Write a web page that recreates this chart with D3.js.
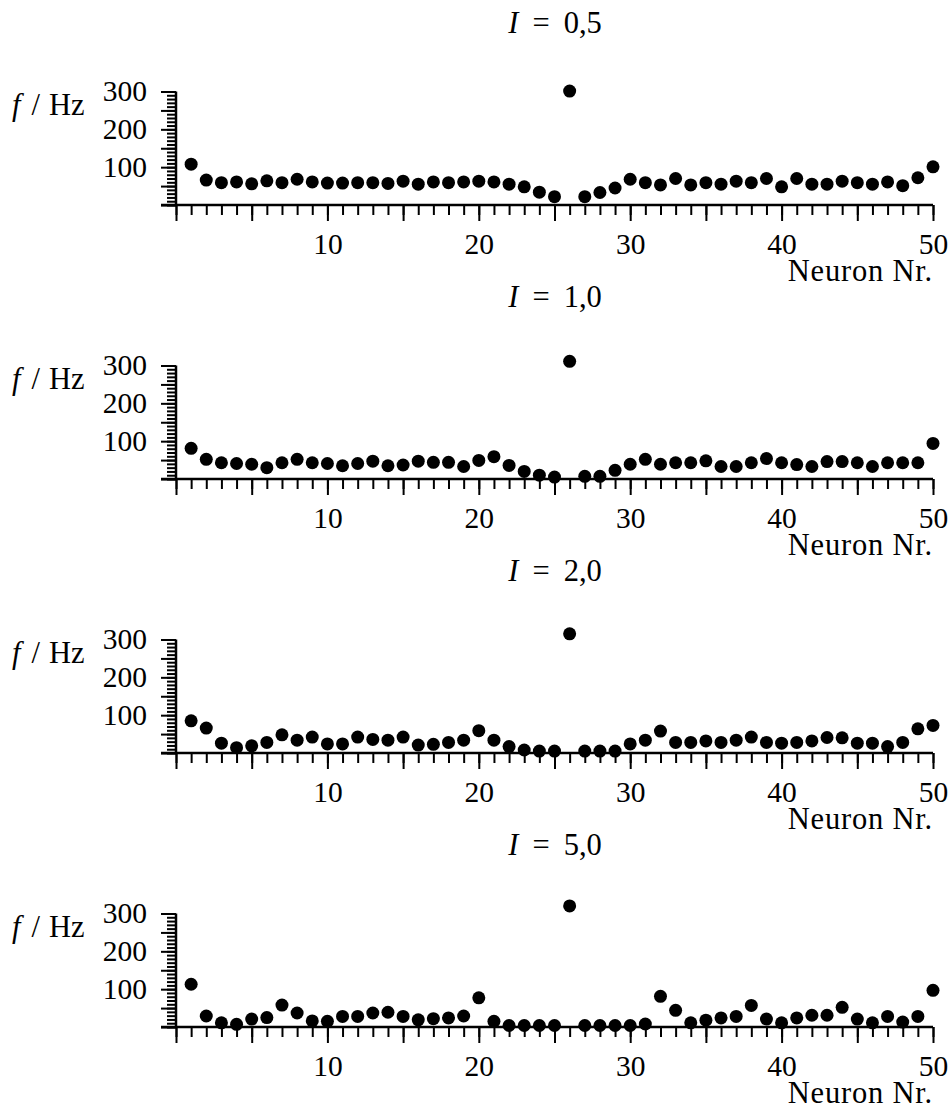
<!DOCTYPE html>
<html>
<head>
<meta charset="utf-8">
<script src="https://cdn.jsdelivr.net/npm/d3@7"></script>
<style>
  body { margin: 0; background: #fff; }
  svg text { font-family: "Liberation Serif", "DejaVu Serif", serif; fill: #000; }
</style>
</head>
<body>
<div id="chart"></div>
<script>
// input currents, one panel each
const currents = ['0,5', '1,0', '2,0', '5,0'];
const neurons = d3.range(1, 51);

// firing rate f / Hz per neuron
const rateI05 = [108, 66, 59, 61, 56, 64, 59, 68, 61, 58, 58, 59, 59, 57, 63, 55, 61, 59, 61, 63,
  61, 55, 48, 34, 22, 301, 22, 33, 45, 68, 59, 53, 70, 53, 59, 55, 63, 59, 70, 48,
  70, 55, 55, 63, 59, 55, 61, 51, 72, 101];
const rateI10 = [81, 52, 43, 41, 39, 30, 43, 52, 43, 41, 35, 41, 47, 35, 37, 47, 44, 44, 33, 49,
  59, 36, 20, 10, 5, 311, 7, 7, 23, 39, 52, 39, 43, 43, 48, 33, 33, 43, 54, 43,
  38, 33, 46, 46, 43, 33, 43, 43, 43, 94];
const rateI20 = [85, 66, 26, 14, 19, 28, 48, 34, 42, 24, 24, 42, 36, 34, 42, 21, 23, 28, 34, 59,
  34, 17, 8, 5, 5, 315, 5, 5, 5, 24, 34, 58, 28, 28, 32, 28, 34, 42, 28, 26,
  28, 32, 41, 40, 26, 26, 17, 28, 64, 73];
const rateI50 = [113, 29, 11, 7, 21, 25, 58, 37, 16, 15, 28, 28, 37, 39, 28, 19, 22, 24, 29, 77,
  15, 4, 4, 4, 4, 320, 4, 4, 4, 4, 8, 81, 44, 11, 18, 24, 28, 57, 21, 11,
  24, 31, 31, 52, 21, 11, 28, 13, 28, 97];
const rates = [rateI05, rateI10, rateI20, rateI50];

const xTicksMinor = d3.range(0, 51);
const xTicksMajor = [0, 5, 10, 15, 20, 25, 30, 35, 40, 45, 50];
const xTickLabels = [10, 20, 30, 40, 50];
const yTicksMinor = d3.range(0, 301, 10);
const yTicksMajor = [0, 50, 100, 150, 200, 250, 300];
const yTickLabels = [100, 200, 300];

const width = 951, height = 1111;
const svg = d3.select('#chart').append('svg')
  .attr('width', width).attr('height', height);

const x = d3.scaleLinear().domain([0, 50]).range([176, 933]);
const fs = 29.5;

rates.forEach((vals, i) => {
  const bottom = 205 + i * 274;
  const y = d3.scaleLinear().domain([0, 300]).range([bottom, bottom - 113.5]);
  const g = svg.append('g');

  // x axis: minor ticks every neuron, longer every 5
  const xMinor = g.append('g').attr('transform', `translate(0,${bottom})`)
    .call(d3.axisBottom(x).tickValues(xTicksMinor).tickSize(10).tickSizeOuter(0).tickFormat(''));
  const xMajor = g.append('g').attr('transform', `translate(0,${bottom})`)
    .call(d3.axisBottom(x).tickValues(xTicksMajor).tickSize(16).tickSizeOuter(0).tickPadding(12)
      .tickFormat(d => xTickLabels.includes(d) ? d : ''));

  // y axis
  const yMinor = g.append('g').attr('transform', 'translate(176,0)')
    .call(d3.axisLeft(y).tickValues(yTicksMinor).tickSize(9).tickSizeOuter(0).tickFormat(''));
  const yMajor = g.append('g').attr('transform', 'translate(176,0)')
    .call(d3.axisLeft(y).tickValues(yTicksMajor).tickSize(15).tickSizeOuter(0).tickPadding(14)
      .tickFormat(d => yTickLabels.includes(d) ? d : ''));

  [xMinor, xMajor, yMinor, yMajor].forEach(a => {
    a.select('.domain').remove();
    a.selectAll('line').attr('stroke', '#000').attr('stroke-width', 2);
    a.selectAll('text').attr('font-size', fs).attr('font-family', '"Liberation Serif", serif');
  });

  // axis lines
  g.append('line').attr('x1', 161).attr('x2', x(50)).attr('y1', bottom).attr('y2', bottom)
    .attr('stroke', '#000').attr('stroke-width', 2.5);
  g.append('line').attr('x1', 176).attr('x2', 176).attr('y1', bottom).attr('y2', y(300))
    .attr('stroke', '#000').attr('stroke-width', 2.5);

  // points
  g.selectAll('circle').data(vals).enter().append('circle')
    .attr('cx', (d, j) => x(neurons[j]))
    .attr('cy', d => y(d))
    .attr('r', 6.5)
    .attr('fill', '#000');

  // title
  const t = g.append('text').attr('x', 555).attr('y', bottom - 172)
    .attr('text-anchor', 'middle').attr('font-size', fs + 1);
  t.append('tspan').attr('font-style', 'italic').text('I');
  t.append('tspan').attr('dx', 14).text('=');
  t.append('tspan').attr('dx', 14).text(currents[i]);

  // y label
  const yl = g.append('text').attr('x', 12).attr('y', bottom - 90).attr('font-size', fs + 1);
  yl.append('tspan').attr('font-style', 'italic').text('f');
  yl.append('tspan').attr('dx', 11).text('/');
  yl.append('tspan').attr('dx', 9).text('Hz');

  // x label
  g.append('text').attr('x', 933).attr('y', bottom + 76)
    .attr('text-anchor', 'end').attr('font-size', fs + 1).attr('letter-spacing', 0.8)
    .text('Neuron Nr.');
});
</script>
</body>
</html>
